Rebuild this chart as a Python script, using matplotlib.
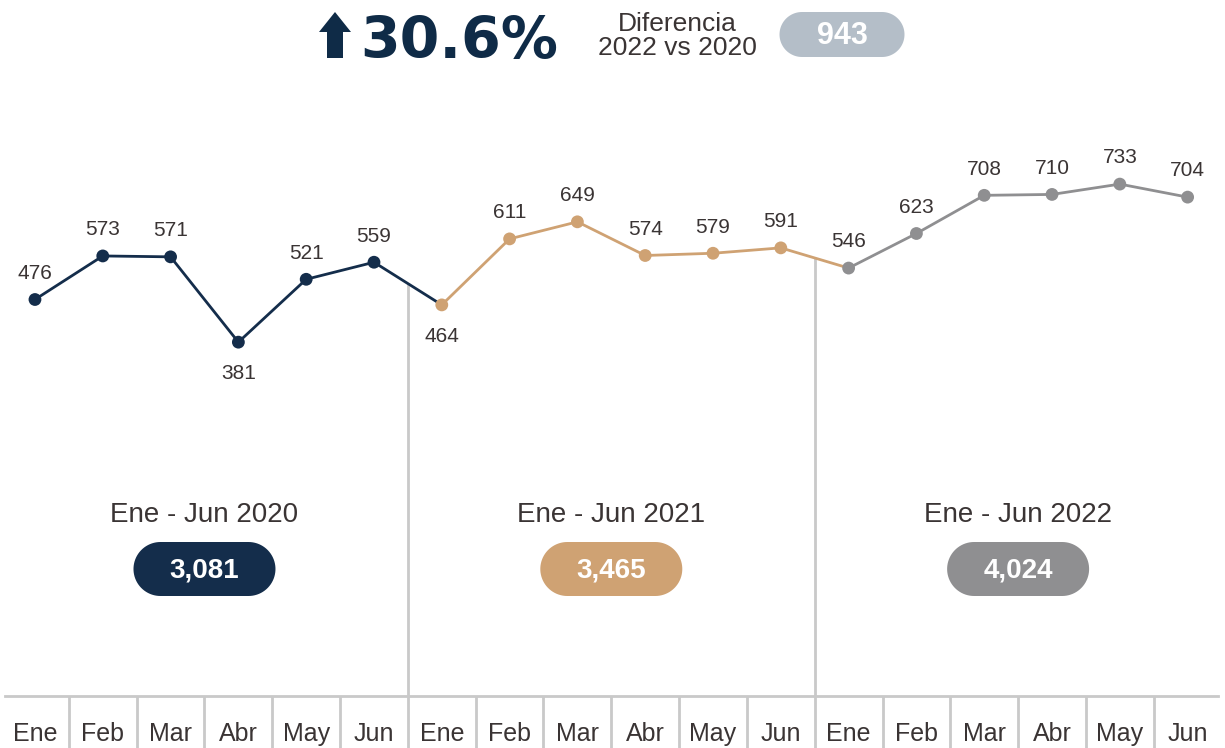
import numpy as np
import matplotlib.pyplot as plt
from matplotlib.patches import Polygon

months = ['Ene', 'Feb', 'Mar', 'Abr', 'May', 'Jun']
years = ['2020', '2021', '2022']
v2020 = [476, 573, 571, 381, 521, 559]
v2021 = [464, 611, 649, 574, 579, 591]
v2022 = [546, 623, 708, 710, 733, 704]
totals = ['3,081', '3,465', '4,024']
change = '30.6%'
diff = '943'

navy = '#142d4b'
tan = '#cfa273'
grey = '#8f8f91'
txt = '#3a3434'
rule = '#c9c9c9'
colors = [navy, tan, grey]

plt.rcParams['font.family'] = ['Liberation Sans', 'DejaVu Sans']


def pill(cx, cy, w, h, color):
    """stadium shape in pixel coords"""
    r = h / 2
    t = np.linspace(-np.pi / 2, np.pi / 2, 40)
    right = np.c_[cx + w / 2 - r + r * np.cos(t), cy + r * np.sin(t)]
    left = np.c_[cx - w / 2 + r - r * np.cos(t), cy - r * np.sin(t)]
    return Polygon(np.vstack([right, left]), closed=True, fc=color, ec='none')


fig = plt.figure(figsize=(12.25, 7.48), dpi=100)
ax = fig.add_axes([5 / 1225, 52 / 748, 1213 / 1225, 696 / 748])
ax.set_xlim(-0.442, 17.448)
ax.set_ylim(-407, 1143)

series = [v2020, v2021, v2022]
allv = v2020 + v2021 + v2022
x_all = np.arange(len(allv))

for k, vals in enumerate(series):
    xs = list(range(k * 6, k * 6 + 6))
    ys = list(vals)
    # line carries on to the first point of the next period
    if k < 2:
        xs_line = xs + [xs[-1] + 1]
        ys_line = ys + [series[k + 1][0]]
    else:
        xs_line, ys_line = xs, ys
    ax.plot(xs_line, ys_line, color=colors[k], lw=2, zorder=3)
    ax.scatter(xs, ys, s=85, color=colors[k], zorder=4, edgecolors='none')

# value labels
below = {3, 6}
for i, v in enumerate(allv):
    if i in below:
        ax.annotate(str(v), (i, v), xytext=(0, -16), textcoords='offset points',
                    ha='center', va='top', fontsize=15, color=txt)
    else:
        ax.annotate(str(v), (i, v), xytext=(0, 12), textcoords='offset points',
                    ha='center', va='bottom', fontsize=15, color=txt)

# period separators
for b in [5.5, 11.5]:
    yb = np.interp(b, x_all, allv)
    ax.vlines(b, -407, yb, color=rule, lw=2, zorder=1)

# period labels
for k in range(3):
    ax.text(k * 6 + 2.5, -4, 'Ene - Jun ' + years[k], ha='center', va='center',
            fontsize=20, color=txt)

# month axis
ax.set_xticks(x_all)
ax.set_xticklabels(months * 3, fontsize=18, color=txt)
ax.set_xticks(np.arange(0.5, 17, 1), minor=True)
ax.tick_params(axis='x', which='major', length=0, pad=19)
ax.tick_params(axis='x', which='minor', length=38, width=2, color=rule, direction='out')
ax.set_yticks([])
for s in ['top', 'left', 'right']:
    ax.spines[s].set_visible(False)
ax.spines['bottom'].set_color(rule)
ax.spines['bottom'].set_linewidth(2)
ax.patch.set_alpha(0)

# overlay in pixel coordinates (origin bottom-left) for pills and header
ov = fig.add_axes([0, 0, 1, 1])
ov.set_xlim(0, 1225)
ov.set_ylim(0, 748)
ov.axis('off')
ov.patch.set_alpha(0)

H = 748
fig.canvas.draw()
for k in range(3):
    cx = ax.transData.transform((k * 6 + 2.5, 0))[0]
    cy = H - 569
    ov.add_patch(pill(cx, cy, 142, 54, colors[k]))
    ov.text(cx, cy - 1, totals[k], ha='center', va='center', fontsize=20,
            color='white', fontweight='bold')

# header
ov.add_patch(Polygon([(319, H - 32), (335, H - 12), (351, H - 32), (343, H - 32),
                      (343, H - 58), (327, H - 58), (327, H - 32)],
                     closed=True, fc='#0f2b47', ec='none'))
ov.text(360, H - 58, change, ha='left', va='baseline', fontsize=41,
        fontweight='bold', color='#0f2b47', family='DejaVu Sans')
ov.text(677, H - 36, 'Diferencia\n2022 vs 2020', ha='center', va='center',
        fontsize=19, color=txt, linespacing=0.95)
ov.add_patch(pill(842, H - 34.5, 125, 45, '#b4bec8'))
ov.text(842, H - 36, diff, ha='center', va='center', fontsize=22,
        color='white', fontweight='bold')

fig.savefig('out.png', dpi=100)
